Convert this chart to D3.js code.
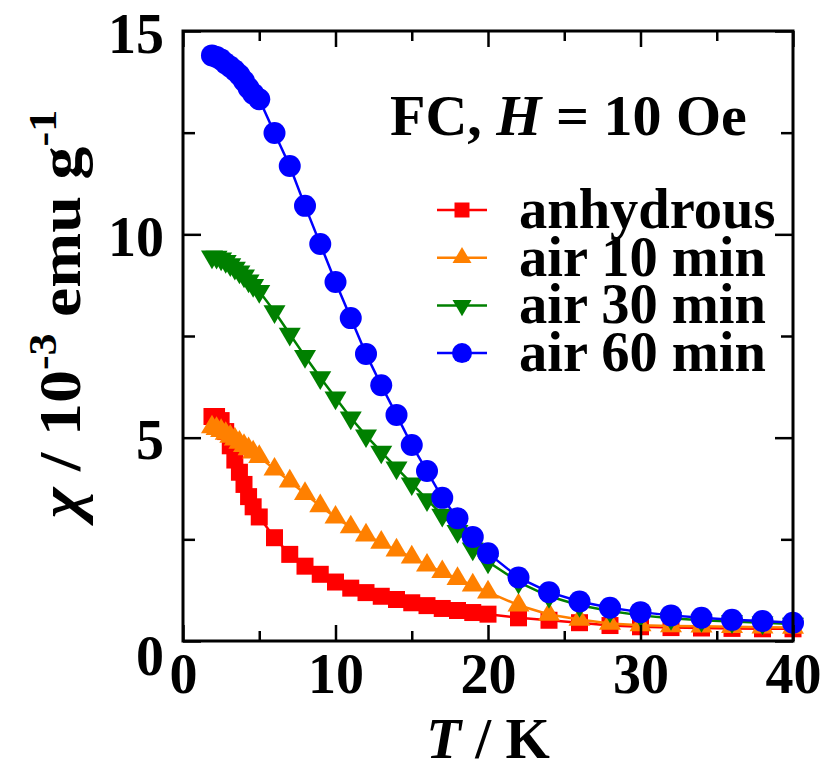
<!DOCTYPE html>
<html>
<head>
<meta charset="utf-8">
<script src="https://cdn.jsdelivr.net/npm/d3@7/dist/d3.min.js"></script>
<style>
  html, body { margin: 0; padding: 0; background: #fff; }
  svg { display: block; }
  text { font-family: "Liberation Serif", "Times New Roman", serif; font-weight: bold; fill: #000; }
</style>
</head>
<body>
<svg id="chart" width="823" height="766"></svg>
<script>
// ---------------- data ----------------
const temperature = [1.9, 2.2, 2.5, 2.8, 3.1, 3.4, 3.7, 4.0, 4.3, 4.6, 5.0,
  6, 7, 8, 9, 10, 11, 12, 13, 14, 15, 16, 17, 18, 19, 20,
  22, 24, 26, 28, 30, 32, 34, 36, 38, 40];

const anhydrous = [5.52, 5.52, 5.42, 5.15, 4.8, 4.45, 4.15, 3.85, 3.55, 3.3, 3.05,
  2.54, 2.13, 1.84, 1.64, 1.45, 1.3, 1.19, 1.1, 1.02, 0.94, 0.87, 0.8, 0.75, 0.7, 0.66,
  0.57, 0.51, 0.45, 0.38, 0.35, 0.33, 0.32, 0.31, 0.3, 0.3];

const air10 = [5.26, 5.22, 5.17, 5.1, 5.03, 4.96, 4.88, 4.8, 4.72, 4.64, 4.53,
  4.22, 3.93, 3.62, 3.32, 3.04, 2.8, 2.6, 2.42, 2.23, 2.06, 1.86, 1.7, 1.53, 1.37, 1.2,
  0.88, 0.65, 0.53, 0.43, 0.39, 0.37, 0.36, 0.35, 0.34, 0.33];

const air30 = [9.45, 9.44, 9.4, 9.34, 9.26, 9.17, 9.08, 8.98, 8.86, 8.75, 8.6,
  8.1, 7.55, 7.0, 6.48, 5.98, 5.49, 5.05, 4.65, 4.26, 3.87, 3.48, 3.1, 2.7, 2.27, 1.95,
  1.45, 1.1, 0.88, 0.74, 0.63, 0.56, 0.51, 0.48, 0.45, 0.42];

const air60 = [14.4, 14.36, 14.3, 14.2, 14.12, 14.03, 13.92, 13.77, 13.6, 13.46, 13.32,
  12.49, 11.68, 10.7, 9.76, 8.83, 7.94, 7.06, 6.29, 5.56, 4.82, 4.18, 3.52, 3.02, 2.56, 2.16,
  1.56, 1.2, 0.97, 0.82, 0.71, 0.63, 0.57, 0.52, 0.49, 0.45];

const seriesNames = ["anhydrous", "air 10 min", "air 30 min", "air 60 min"];
const seriesValues = [anhydrous, air10, air30, air60];
const seriesColors = ["#ff0000", "#ff8000", "#008000", "#0000ff"];
const seriesMarkers = ["square", "triangleUp", "triangleDown", "circle"];

const xMajorTicks = [0, 10, 20, 30, 40];
const xMinorTicks = [5, 15, 25, 35];
const yMajorTicks = [0, 5, 10, 15];
const yMinorTicks = [2.5, 7.5, 12.5];

// ---------------- layout ----------------
const svg = d3.select("#chart");
const L = 183, R = 793, T = 31, B = 641;
const x = d3.scaleLinear().domain([0, 40]).range([L, R]);
const y = d3.scaleLinear().domain([0, 15]).range([B, T]);

function markerPath(type, s) {
  if (type === "square") {
    const h = s / 2;
    return `M${-h},${-h}H${h}V${h}H${-h}Z`;
  }
  if (type === "circle") {
    const r = s / 2;
    return `M${r},0A${r},${r} 0 1,1 ${-r},0A${r},${r} 0 1,1 ${r},0Z`;
  }
  const w = s / 2, h = s * 0.85;
  if (type === "triangleUp") {
    return `M0,${-h * 2 / 3}L${w},${h / 3}L${-w},${h / 3}Z`;
  }
  return `M0,${h * 2 / 3}L${w},${-h / 3}L${-w},${-h / 3}Z`;
}
const markerSize = { square: 17, circle: 22, triangleUp: 22, triangleDown: 22 };

// ---------------- data series ----------------
const line = d3.line().x(d => x(d[0])).y(d => y(d[1]));
seriesValues.forEach((vals, i) => {
  const pts = temperature.map((t, j) => [t, vals[j]]);
  const g = svg.append("g");
  g.append("path").datum(pts)
    .attr("d", line)
    .attr("fill", "none")
    .attr("stroke", seriesColors[i])
    .attr("stroke-width", 2.5);
  g.selectAll("path.m").data(pts).enter().append("path")
    .attr("class", "m")
    .attr("transform", d => `translate(${x(d[0])},${y(d[1])})`)
    .attr("d", markerPath(seriesMarkers[i], markerSize[seriesMarkers[i]]))
    .attr("fill", seriesColors[i]);
});

// ---------------- axes ----------------
function styleAxis(sel) {
  sel.select(".domain").remove();
  sel.selectAll(".tick line").attr("stroke", "#000").attr("stroke-width", 2.5);
  sel.selectAll("text").style("font-size", "56px").style("font-family", '"Liberation Serif", serif').style("font-weight", "bold");
}
// bottom
svg.append("g").attr("transform", `translate(0,${B})`)
  .call(d3.axisBottom(x).tickValues(xMajorTicks).tickFormat(d3.format("d")).tickSize(-16).tickPadding(12))
  .call(styleAxis);
svg.append("g").attr("transform", `translate(0,${B})`)
  .call(d3.axisBottom(x).tickValues(xMinorTicks).tickFormat("").tickSize(-10))
  .call(styleAxis);
// top
svg.append("g").attr("transform", `translate(0,${T})`)
  .call(d3.axisTop(x).tickValues(xMajorTicks).tickFormat("").tickSize(-16))
  .call(styleAxis);
svg.append("g").attr("transform", `translate(0,${T})`)
  .call(d3.axisTop(x).tickValues(xMinorTicks).tickFormat("").tickSize(-10))
  .call(styleAxis);
// left
const yAx = svg.append("g").attr("transform", `translate(${L},0)`)
  .call(d3.axisLeft(y).tickValues(yMajorTicks).tickFormat(d3.format("d")).tickSize(-18).tickPadding(19))
  .call(styleAxis);
yAx.selectAll(".tick text").attr("dy", d => d === 0 ? "0.6em" : "0.38em");
svg.append("g").attr("transform", `translate(${L},0)`)
  .call(d3.axisLeft(y).tickValues(yMinorTicks).tickFormat("").tickSize(-12))
  .call(styleAxis);
// right
svg.append("g").attr("transform", `translate(${R},0)`)
  .call(d3.axisRight(y).tickValues(yMajorTicks).tickFormat("").tickSize(-18))
  .call(styleAxis);
svg.append("g").attr("transform", `translate(${R},0)`)
  .call(d3.axisRight(y).tickValues(yMinorTicks).tickFormat("").tickSize(-12))
  .call(styleAxis);

// frame
svg.append("rect").attr("x", L).attr("y", T).attr("width", R - L).attr("height", B - T)
  .attr("fill", "none").attr("stroke", "#000").attr("stroke-width", 3);

// ---------------- axis titles ----------------
const xt = svg.append("text").attr("x", (L + R) / 2).attr("y", 758)
  .attr("text-anchor", "middle").style("font-size", "57px");
xt.append("tspan").style("font-style", "italic").text("T");
xt.append("tspan").text(" / K");

const yt = svg.append("text").attr("transform", "translate(80,314) rotate(-90) scale(1.1,1)")
  .attr("text-anchor", "middle").style("font-size", "60px");
yt.append("tspan").style("font-style", "italic").style("font-weight", "bold").text("χ");
yt.append("tspan").text(" / 10");
yt.append("tspan").attr("dy", -24).style("font-size", "40px").text("-3");
yt.append("tspan").attr("dy", 24).text(" emu g");
yt.append("tspan").attr("dy", -24).style("font-size", "40px").text("-1");

// ---------------- annotation ----------------
const ann = svg.append("text").attr("x", 390).attr("y", 135).style("font-size", "58px");
ann.append("tspan").text("FC, ");
ann.append("tspan").style("font-style", "italic").text("H");
ann.append("tspan").text(" = 10 Oe");

// ---------------- legend ----------------
const legY0 = 210, legDy = 47.7;
seriesNames.forEach((name, i) => {
  const cy = legY0 + i * legDy;
  const g = svg.append("g");
  g.append("line").attr("x1", 437).attr("x2", 487).attr("y1", cy).attr("y2", cy)
    .attr("stroke", seriesColors[i]).attr("stroke-width", 2.5);
  const s = seriesMarkers[i] === "square" ? 15 : (seriesMarkers[i] === "circle" ? 20 : 19);
  g.append("path").attr("transform", `translate(462,${cy})`)
    .attr("d", markerPath(seriesMarkers[i], s)).attr("fill", seriesColors[i]);
  g.append("text").attr("x", 519).attr("y", cy + 18).style("font-size", "56.5px").text(name);
});
</script>
</body>
</html>
